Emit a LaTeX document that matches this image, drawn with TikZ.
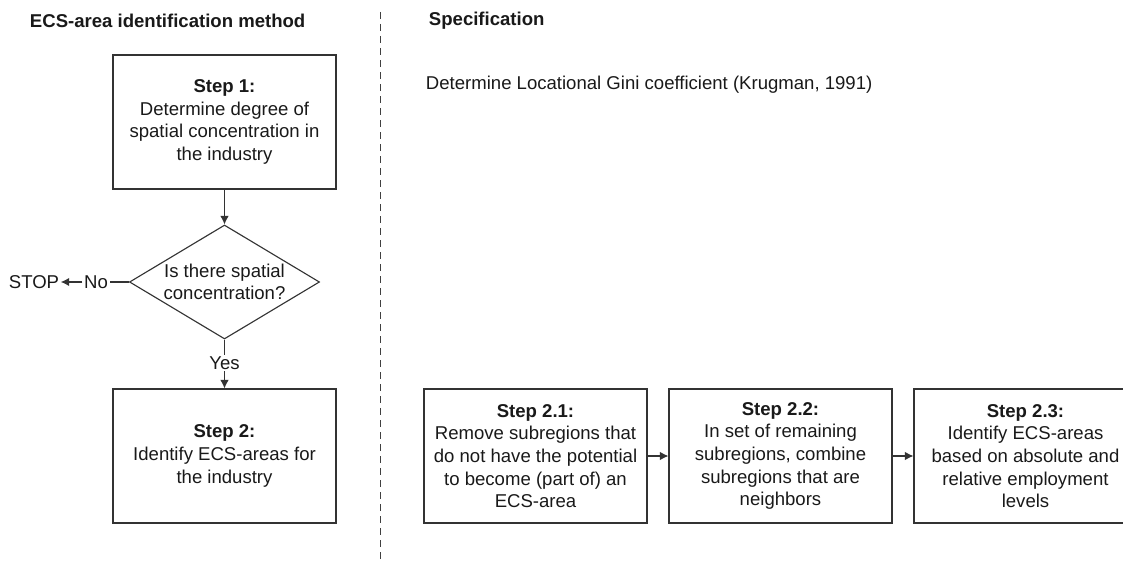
\documentclass[tikz,border=0pt]{standalone}
\usepackage{fontspec}
\setmainfont{Liberation Sans}
\usepackage{tikz}
\usetikzlibrary{positioning,shapes.geometric,arrows.meta}

\begin{document}
\begin{tikzpicture}[
			x=0.025cm, y=-0.025cm,
			every node/.style={font=\fontsize{13.2}{16.1}\selectfont, text=black!90},
			stepbox/.style={rectangle, draw=black!80, thick, minimum width=5.575cm, minimum height=3.35cm, align=center, inner sep=0pt},
			decision/.style={diamond, draw=black!80, thick, minimum width=4.75cm, minimum height=2.85cm, aspect=1.67, align=center, inner sep=0pt},
			heading/.style={anchor=west, font=\fontsize{13.2}{16.1}\selectfont\bfseries},
			label/.style={inner sep=1pt},
			arrow/.style={draw=black!80, thick, -{Latex[length=6pt,width=6pt]}},
			]
			\useasboundingbox (0,0) rectangle (1123,563);
			\clip (0,0) rectangle (1123,563);
			%Nodes
				\node[heading]		(method)		at (25,21)		{ECS-area identification method};
				\node[heading]		(spec)			at (424,21)		{Specification};
				\node[stepbox]		(step-1)		at (224.5,122)	{\textbf{Step 1:}\\Determine degree of\\spatial concentration in\\the industry};
				\node[decision]		(question)		at (224.5,282)	{Is there spatial\\concentration?};
				\node[label]		(no)			at (96,282)		{No};
				\node[label]		(stop)			at (34,282)		{STOP};
				\node[label]		(yes)			at (224.5,363)	{Yes};
				\node[stepbox]		(step-2)		at (224.5,456)	{\textbf{Step 2:}\\Identify ECS-areas for\\the industry};
				\node[anchor=west]	(gini)			at (421,85)		{Determine Locational Gini coefficient (Krugman, 1991)};
				\node[stepbox]		(step-2-1)		at (535.5,456)	{\textbf{Step 2.1:}\\Remove subregions that\\do not have the potential\\to become (part of) an\\ECS-area};
				\node[stepbox]		(step-2-2)		at (780.5,456)	{\textbf{Step 2.2:}\\In set of remaining\\subregions, combine\\subregions that are\\neighbors};
				\node[stepbox]		(step-2-3)		at (1025.5,456)	{\textbf{Step 2.3:}\\Identify ECS-areas\\based on absolute and\\relative employment\\levels};

			%Lines
				\draw[arrow] (step-1) -- (question);
				\draw[draw=black!80, thick] (question.west) -- (no.east);
				\draw[arrow] (no.west) -- (stop.east);
				\draw[draw=black!80, thick] (question.south) -- (yes.north);
				\draw[arrow] (yes.south) -- (step-2);
				\draw[arrow] (step-2-1) -- (step-2-2);
				\draw[arrow] (step-2-2) -- (step-2-3);
				\draw[black!75, semithick, dash pattern=on 0.18cm off 0.12cm] (380,12) -- (380,563);
		\end{tikzpicture}
\end{document}
